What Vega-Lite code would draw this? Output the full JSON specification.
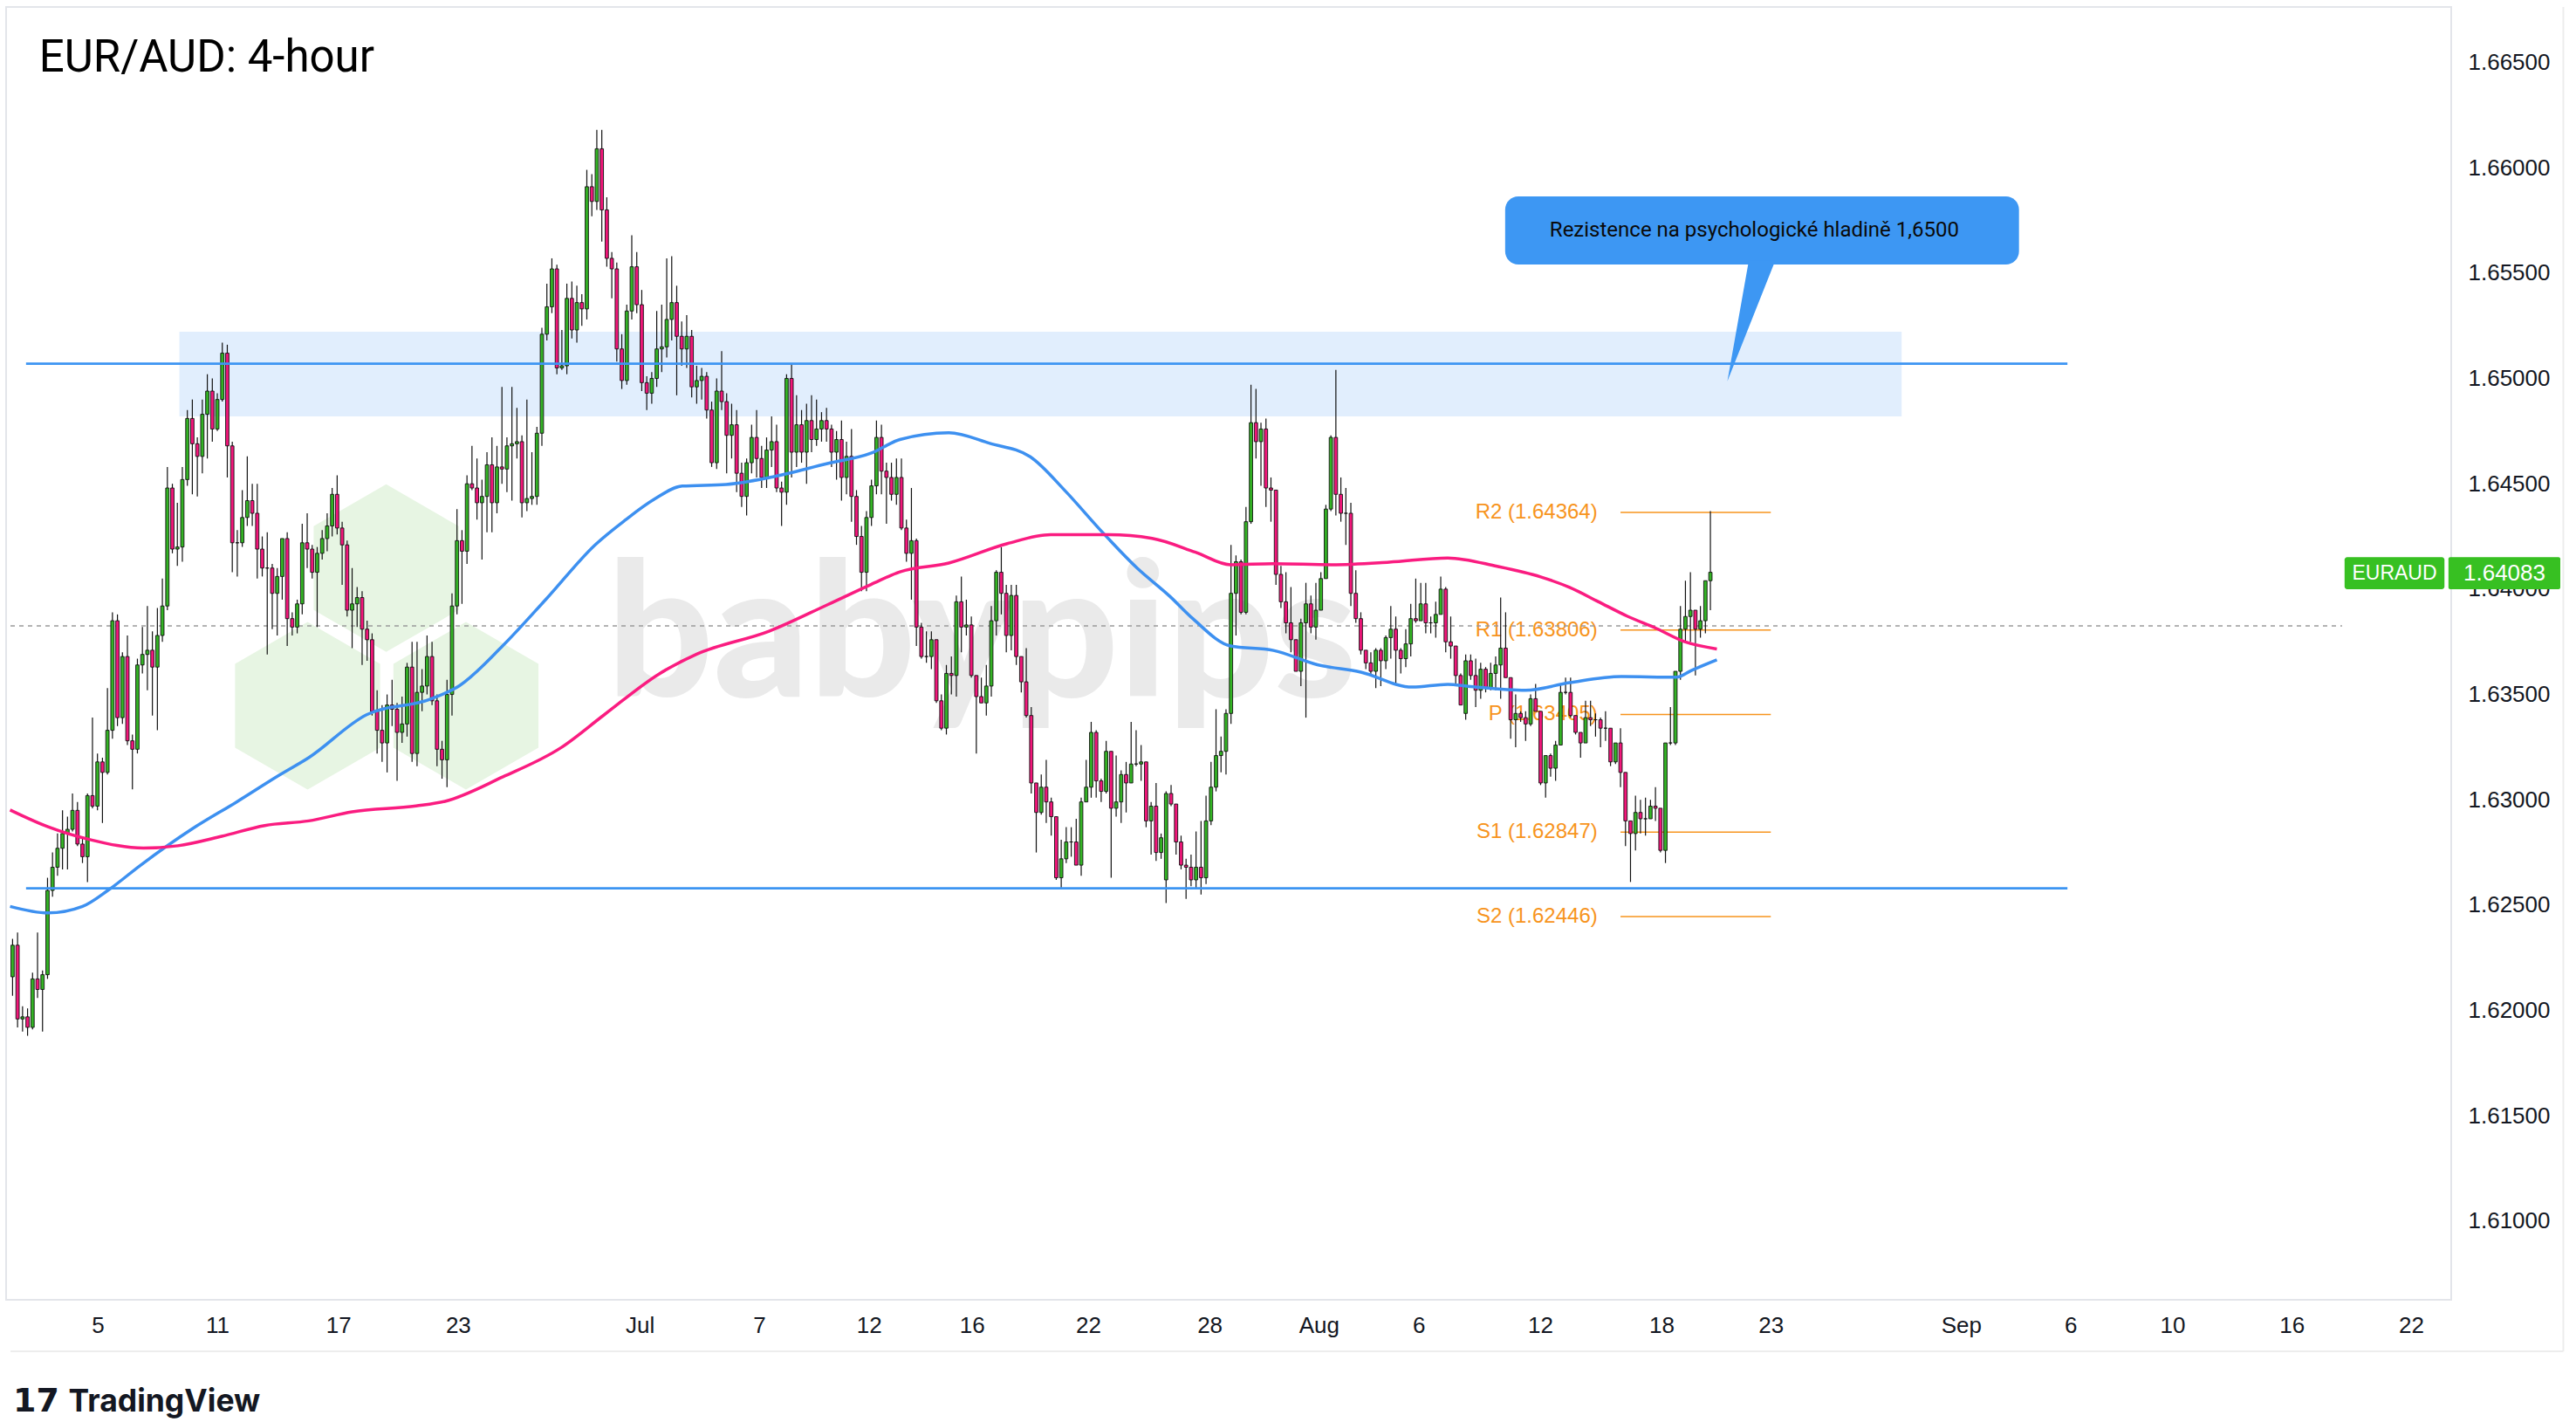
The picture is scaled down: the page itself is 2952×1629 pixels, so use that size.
{
  "$schema": "https://vega.github.io/schema/vega-lite/v6.json",
  "width": 2802,
  "height": 1481,
  "autosize": {"type": "none"},
  "padding": {"left": 7, "top": 8, "right": 143, "bottom": 140},
  "background": "#ffffff",
  "config": {"view": {"stroke": "#E3E5EA", "strokeWidth": 2}, "font": "Liberation Sans"},
  "resolve": {"axis": {"x": "independent", "y": "independent"}},
  "datasets": {
    "candles": [
      {"i":0,"o":1.6216,"h":1.6234,"l":1.6207,"c":1.6231},{"i":1,"o":1.6231,"h":1.6237,"l":1.6192,"c":1.6196},{"i":2,"o":1.6196,"h":1.6202,"l":1.6190,"c":1.6197},{"i":3,"o":1.6197,"h":1.6201,"l":1.6188,"c":1.6192},{"i":4,"o":1.6192,"h":1.6218,"l":1.6191,"c":1.6215},
      {"i":5,"o":1.6215,"h":1.6237,"l":1.6206,"c":1.6210},{"i":6,"o":1.6210,"h":1.6219,"l":1.6190,"c":1.6217},{"i":7,"o":1.6217,"h":1.6263,"l":1.6215,"c":1.6257},{"i":8,"o":1.6257,"h":1.6275,"l":1.6254,"c":1.6268},{"i":9,"o":1.6268,"h":1.6284,"l":1.6264,"c":1.6277},
      {"i":10,"o":1.6277,"h":1.6295,"l":1.6267,"c":1.6284},{"i":11,"o":1.6284,"h":1.6292,"l":1.6267,"c":1.6286},{"i":12,"o":1.6286,"h":1.6303,"l":1.6285,"c":1.6295},{"i":13,"o":1.6295,"h":1.6299,"l":1.6278,"c":1.6279},{"i":14,"o":1.6279,"h":1.6282,"l":1.6270,"c":1.6273},
      {"i":15,"o":1.6273,"h":1.6303,"l":1.6261,"c":1.6302},{"i":16,"o":1.6302,"h":1.6339,"l":1.6296,"c":1.6297},{"i":17,"o":1.6297,"h":1.6322,"l":1.6295,"c":1.6318},{"i":18,"o":1.6318,"h":1.6320,"l":1.6289,"c":1.6313},{"i":19,"o":1.6313,"h":1.6353,"l":1.6312,"c":1.6333},
      {"i":20,"o":1.6333,"h":1.6389,"l":1.6329,"c":1.6385},{"i":21,"o":1.6385,"h":1.6388,"l":1.6335,"c":1.6339},{"i":22,"o":1.6339,"h":1.6370,"l":1.6336,"c":1.6368},{"i":23,"o":1.6368,"h":1.6378,"l":1.6326,"c":1.6328},{"i":24,"o":1.6328,"h":1.6331,"l":1.6305,"c":1.6324},
      {"i":25,"o":1.6324,"h":1.6367,"l":1.6322,"c":1.6364},{"i":26,"o":1.6364,"h":1.6382,"l":1.6360,"c":1.6369},{"i":27,"o":1.6369,"h":1.6392,"l":1.6352,"c":1.6371},{"i":28,"o":1.6371,"h":1.6380,"l":1.6340,"c":1.6363},{"i":29,"o":1.6363,"h":1.6391,"l":1.6333,"c":1.6378},
      {"i":30,"o":1.6378,"h":1.6405,"l":1.6375,"c":1.6392},{"i":31,"o":1.6392,"h":1.6458,"l":1.6390,"c":1.6448},{"i":32,"o":1.6448,"h":1.6450,"l":1.6417,"c":1.6419},{"i":33,"o":1.6419,"h":1.6441,"l":1.6411,"c":1.6420},{"i":34,"o":1.6420,"h":1.6458,"l":1.6413,"c":1.6452},
      {"i":35,"o":1.6452,"h":1.6485,"l":1.6449,"c":1.6481},{"i":36,"o":1.6481,"h":1.6490,"l":1.6445,"c":1.6469},{"i":37,"o":1.6469,"h":1.6472,"l":1.6444,"c":1.6463},{"i":38,"o":1.6463,"h":1.6490,"l":1.6455,"c":1.6483},{"i":39,"o":1.6483,"h":1.6502,"l":1.6462,"c":1.6494},
      {"i":40,"o":1.6494,"h":1.6500,"l":1.6470,"c":1.6476},{"i":41,"o":1.6476,"h":1.6493,"l":1.6475,"c":1.6490},{"i":42,"o":1.6490,"h":1.6517,"l":1.6489,"c":1.6512},{"i":43,"o":1.6512,"h":1.6516,"l":1.6453,"c":1.6468},{"i":44,"o":1.6468,"h":1.6470,"l":1.6408,"c":1.6422},
      {"i":45,"o":1.6422,"h":1.6428,"l":1.6406,"c":1.6422},{"i":46,"o":1.6422,"h":1.6447,"l":1.6420,"c":1.6434},{"i":47,"o":1.6434,"h":1.6463,"l":1.6430,"c":1.6442},{"i":48,"o":1.6442,"h":1.6450,"l":1.6430,"c":1.6436},{"i":49,"o":1.6436,"h":1.6450,"l":1.6405,"c":1.6419},
      {"i":50,"o":1.6419,"h":1.6425,"l":1.6406,"c":1.6410},{"i":51,"o":1.6410,"h":1.6427,"l":1.6369,"c":1.6410},{"i":52,"o":1.6410,"h":1.6412,"l":1.6381,"c":1.6398},{"i":53,"o":1.6398,"h":1.6410,"l":1.6378,"c":1.6406},{"i":54,"o":1.6406,"h":1.6424,"l":1.6395,"c":1.6424},
      {"i":55,"o":1.6424,"h":1.6427,"l":1.6373,"c":1.6386},{"i":56,"o":1.6386,"h":1.6389,"l":1.6378,"c":1.6382},{"i":57,"o":1.6382,"h":1.6395,"l":1.6379,"c":1.6393},{"i":58,"o":1.6393,"h":1.6431,"l":1.6388,"c":1.6422},{"i":59,"o":1.6422,"h":1.6436,"l":1.6410,"c":1.6419},
      {"i":60,"o":1.6419,"h":1.6421,"l":1.6405,"c":1.6408},{"i":61,"o":1.6408,"h":1.6420,"l":1.6382,"c":1.6417},{"i":62,"o":1.6417,"h":1.6428,"l":1.6414,"c":1.6424},{"i":63,"o":1.6424,"h":1.6436,"l":1.6418,"c":1.6430},{"i":64,"o":1.6430,"h":1.6448,"l":1.6425,"c":1.6445},
      {"i":65,"o":1.6445,"h":1.6454,"l":1.6426,"c":1.6429},{"i":66,"o":1.6429,"h":1.6432,"l":1.6402,"c":1.6421},{"i":67,"o":1.6421,"h":1.6423,"l":1.6387,"c":1.6390},{"i":68,"o":1.6390,"h":1.6410,"l":1.6372,"c":1.6393},{"i":69,"o":1.6393,"h":1.6401,"l":1.6382,"c":1.6396},
      {"i":70,"o":1.6396,"h":1.6399,"l":1.6364,"c":1.6381},{"i":71,"o":1.6381,"h":1.6385,"l":1.6366,"c":1.6376},{"i":72,"o":1.6376,"h":1.6379,"l":1.6340,"c":1.6342},{"i":73,"o":1.6342,"h":1.6352,"l":1.6322,"c":1.6333},{"i":74,"o":1.6333,"h":1.6345,"l":1.6318,"c":1.6327},
      {"i":75,"o":1.6327,"h":1.6350,"l":1.6313,"c":1.6345},{"i":76,"o":1.6345,"h":1.6357,"l":1.6335,"c":1.6343},{"i":77,"o":1.6343,"h":1.6346,"l":1.6309,"c":1.6332},{"i":78,"o":1.6332,"h":1.6349,"l":1.6327,"c":1.6336},{"i":79,"o":1.6336,"h":1.6365,"l":1.6330,"c":1.6363},
      {"i":80,"o":1.6363,"h":1.6375,"l":1.6318,"c":1.6322},{"i":81,"o":1.6322,"h":1.6375,"l":1.6316,"c":1.6351},{"i":82,"o":1.6351,"h":1.6362,"l":1.6342,"c":1.6354},{"i":83,"o":1.6354,"h":1.6378,"l":1.6350,"c":1.6368},{"i":84,"o":1.6368,"h":1.6375,"l":1.6345,"c":1.6347},
      {"i":85,"o":1.6347,"h":1.6350,"l":1.6316,"c":1.6324},{"i":86,"o":1.6324,"h":1.6328,"l":1.6310,"c":1.6319},{"i":87,"o":1.6319,"h":1.6357,"l":1.6306,"c":1.6350},{"i":88,"o":1.6350,"h":1.6398,"l":1.6340,"c":1.6392},{"i":89,"o":1.6392,"h":1.6438,"l":1.6388,"c":1.6423},
      {"i":90,"o":1.6423,"h":1.6428,"l":1.6393,"c":1.6418},{"i":91,"o":1.6418,"h":1.6454,"l":1.6412,"c":1.6450},{"i":92,"o":1.6450,"h":1.6468,"l":1.6447,"c":1.6448},{"i":93,"o":1.6448,"h":1.6462,"l":1.6433,"c":1.6441},{"i":94,"o":1.6441,"h":1.6452,"l":1.6414,"c":1.6444},
      {"i":95,"o":1.6444,"h":1.6465,"l":1.6427,"c":1.6459},{"i":96,"o":1.6459,"h":1.6472,"l":1.6427,"c":1.6441},{"i":97,"o":1.6441,"h":1.6468,"l":1.6436,"c":1.6458},{"i":98,"o":1.6458,"h":1.6496,"l":1.6450,"c":1.6457},{"i":99,"o":1.6457,"h":1.6472,"l":1.6446,"c":1.6468},
      {"i":100,"o":1.6468,"h":1.6496,"l":1.6442,"c":1.6469},{"i":101,"o":1.6469,"h":1.6486,"l":1.6462,"c":1.6470},{"i":102,"o":1.6470,"h":1.6473,"l":1.6434,"c":1.6441},{"i":103,"o":1.6441,"h":1.6490,"l":1.6437,"c":1.6443},{"i":104,"o":1.6443,"h":1.6465,"l":1.6440,"c":1.6444},
      {"i":105,"o":1.6444,"h":1.6477,"l":1.6440,"c":1.6474},{"i":106,"o":1.6474,"h":1.6524,"l":1.6468,"c":1.6521},{"i":107,"o":1.6521,"h":1.6545,"l":1.6518,"c":1.6534},{"i":108,"o":1.6534,"h":1.6557,"l":1.6531,"c":1.6552},{"i":109,"o":1.6552,"h":1.6554,"l":1.6502,"c":1.6505},
      {"i":110,"o":1.6505,"h":1.6523,"l":1.6504,"c":1.6506},{"i":111,"o":1.6506,"h":1.6545,"l":1.6502,"c":1.6538},{"i":112,"o":1.6538,"h":1.6546,"l":1.6519,"c":1.6523},{"i":113,"o":1.6523,"h":1.6544,"l":1.6517,"c":1.6536},{"i":114,"o":1.6536,"h":1.6540,"l":1.6525,"c":1.6533},
      {"i":115,"o":1.6533,"h":1.6599,"l":1.6528,"c":1.6591},{"i":116,"o":1.6591,"h":1.6597,"l":1.6577,"c":1.6584},{"i":117,"o":1.6584,"h":1.6618,"l":1.6580,"c":1.6609},{"i":118,"o":1.6609,"h":1.6618,"l":1.6565,"c":1.6580},{"i":119,"o":1.6580,"h":1.6586,"l":1.6553,"c":1.6557},
      {"i":120,"o":1.6557,"h":1.6560,"l":1.6538,"c":1.6552},{"i":121,"o":1.6552,"h":1.6555,"l":1.6508,"c":1.6514},{"i":122,"o":1.6514,"h":1.6521,"l":1.6495,"c":1.6499},{"i":123,"o":1.6499,"h":1.6535,"l":1.6497,"c":1.6532},{"i":124,"o":1.6532,"h":1.6568,"l":1.6528,"c":1.6553},
      {"i":125,"o":1.6553,"h":1.6560,"l":1.6531,"c":1.6535},{"i":126,"o":1.6535,"h":1.6542,"l":1.6494,"c":1.6498},{"i":127,"o":1.6498,"h":1.6501,"l":1.6485,"c":1.6493},{"i":128,"o":1.6493,"h":1.6503,"l":1.6488,"c":1.6500},{"i":129,"o":1.6500,"h":1.6532,"l":1.6496,"c":1.6514},
      {"i":130,"o":1.6514,"h":1.6535,"l":1.6503,"c":1.6515},{"i":131,"o":1.6515,"h":1.6557,"l":1.6510,"c":1.6528},{"i":132,"o":1.6528,"h":1.6558,"l":1.6518,"c":1.6536},{"i":133,"o":1.6536,"h":1.6544,"l":1.6492,"c":1.6520},{"i":134,"o":1.6520,"h":1.6527,"l":1.6506,"c":1.6514},
      {"i":135,"o":1.6514,"h":1.6530,"l":1.6505,"c":1.6520},{"i":136,"o":1.6520,"h":1.6523,"l":1.6491,"c":1.6496},{"i":137,"o":1.6496,"h":1.6506,"l":1.6488,"c":1.6499},{"i":138,"o":1.6499,"h":1.6505,"l":1.6490,"c":1.6501},{"i":139,"o":1.6501,"h":1.6503,"l":1.6481,"c":1.6485},
      {"i":140,"o":1.6485,"h":1.6489,"l":1.6458,"c":1.6460},{"i":141,"o":1.6460,"h":1.6500,"l":1.6457,"c":1.6494},{"i":142,"o":1.6494,"h":1.6513,"l":1.6485,"c":1.6489},{"i":143,"o":1.6489,"h":1.6493,"l":1.6455,"c":1.6473},{"i":144,"o":1.6473,"h":1.6488,"l":1.6462,"c":1.6478},
      {"i":145,"o":1.6478,"h":1.6485,"l":1.6446,"c":1.6455},{"i":146,"o":1.6455,"h":1.6460,"l":1.6439,"c":1.6444},{"i":147,"o":1.6444,"h":1.6462,"l":1.6435,"c":1.6460},{"i":148,"o":1.6460,"h":1.6478,"l":1.6455,"c":1.6472},{"i":149,"o":1.6472,"h":1.6485,"l":1.6453,"c":1.6462},
      {"i":150,"o":1.6462,"h":1.6468,"l":1.6448,"c":1.6453},{"i":151,"o":1.6453,"h":1.6472,"l":1.6448,"c":1.6466},{"i":152,"o":1.6466,"h":1.6482,"l":1.6458,"c":1.6470},{"i":153,"o":1.6470,"h":1.6478,"l":1.6446,"c":1.6448},{"i":154,"o":1.6448,"h":1.6451,"l":1.6430,"c":1.6446},
      {"i":155,"o":1.6446,"h":1.6502,"l":1.6440,"c":1.6500},{"i":156,"o":1.6500,"h":1.6507,"l":1.6453,"c":1.6465},{"i":157,"o":1.6465,"h":1.6492,"l":1.6458,"c":1.6478},{"i":158,"o":1.6478,"h":1.6485,"l":1.6460,"c":1.6465},{"i":159,"o":1.6465,"h":1.6488,"l":1.6450,"c":1.6480},
      {"i":160,"o":1.6480,"h":1.6492,"l":1.6465,"c":1.6471},{"i":161,"o":1.6471,"h":1.6490,"l":1.6468,"c":1.6476},{"i":162,"o":1.6476,"h":1.6484,"l":1.6470,"c":1.6480},{"i":163,"o":1.6480,"h":1.6486,"l":1.6470,"c":1.6476},{"i":164,"o":1.6476,"h":1.6478,"l":1.6458,"c":1.6465},
      {"i":165,"o":1.6465,"h":1.6475,"l":1.6452,"c":1.6471},{"i":166,"o":1.6471,"h":1.6480,"l":1.6442,"c":1.6453},{"i":167,"o":1.6453,"h":1.6470,"l":1.6445,"c":1.6463},{"i":168,"o":1.6463,"h":1.6476,"l":1.6432,"c":1.6444},{"i":169,"o":1.6444,"h":1.6447,"l":1.6421,"c":1.6425},
      {"i":170,"o":1.6425,"h":1.6430,"l":1.6399,"c":1.6408},{"i":171,"o":1.6408,"h":1.6437,"l":1.6399,"c":1.6434},{"i":172,"o":1.6434,"h":1.6452,"l":1.6430,"c":1.6449},{"i":173,"o":1.6449,"h":1.6480,"l":1.6445,"c":1.6472},{"i":174,"o":1.6472,"h":1.6478,"l":1.6445,"c":1.6456},
      {"i":175,"o":1.6456,"h":1.6460,"l":1.6431,"c":1.6453},{"i":176,"o":1.6453,"h":1.6460,"l":1.6442,"c":1.6445},{"i":177,"o":1.6445,"h":1.6462,"l":1.6440,"c":1.6453},{"i":178,"o":1.6453,"h":1.6462,"l":1.6428,"c":1.6429},{"i":179,"o":1.6429,"h":1.6433,"l":1.6413,"c":1.6417},
      {"i":180,"o":1.6417,"h":1.6448,"l":1.6395,"c":1.6423},{"i":181,"o":1.6423,"h":1.6424,"l":1.6373,"c":1.6382},{"i":182,"o":1.6382,"h":1.6384,"l":1.6367,"c":1.6368},{"i":183,"o":1.6368,"h":1.6380,"l":1.6365,"c":1.6368},{"i":184,"o":1.6368,"h":1.6380,"l":1.6362,"c":1.6376},
      {"i":185,"o":1.6376,"h":1.6376,"l":1.6346,"c":1.6347},{"i":186,"o":1.6347,"h":1.6350,"l":1.6333,"c":1.6334},{"i":187,"o":1.6334,"h":1.6364,"l":1.6331,"c":1.6360},{"i":188,"o":1.6360,"h":1.6368,"l":1.6350,"c":1.6359},{"i":189,"o":1.6359,"h":1.6397,"l":1.6349,"c":1.6394},
      {"i":190,"o":1.6394,"h":1.6406,"l":1.6370,"c":1.6382},{"i":191,"o":1.6382,"h":1.6395,"l":1.6378,"c":1.6383},{"i":192,"o":1.6383,"h":1.6387,"l":1.6358,"c":1.6359},{"i":193,"o":1.6359,"h":1.6359,"l":1.6322,"c":1.6349},{"i":194,"o":1.6349,"h":1.6358,"l":1.6346,"c":1.6346},
      {"i":195,"o":1.6346,"h":1.6364,"l":1.6340,"c":1.6354},{"i":196,"o":1.6354,"h":1.6392,"l":1.6349,"c":1.6385},{"i":197,"o":1.6385,"h":1.6409,"l":1.6378,"c":1.6408},{"i":198,"o":1.6408,"h":1.6420,"l":1.6388,"c":1.6398},{"i":199,"o":1.6398,"h":1.6402,"l":1.6370,"c":1.6378},
      {"i":200,"o":1.6378,"h":1.6402,"l":1.6371,"c":1.6397},{"i":201,"o":1.6397,"h":1.6402,"l":1.6364,"c":1.6368},{"i":202,"o":1.6368,"h":1.6368,"l":1.6351,"c":1.6356},{"i":203,"o":1.6356,"h":1.6372,"l":1.6339,"c":1.6340},{"i":204,"o":1.6340,"h":1.6344,"l":1.6303,"c":1.6308},
      {"i":205,"o":1.6308,"h":1.6308,"l":1.6275,"c":1.6294},{"i":206,"o":1.6294,"h":1.6312,"l":1.6293,"c":1.6306},{"i":207,"o":1.6306,"h":1.6319,"l":1.6289,"c":1.6299},{"i":208,"o":1.6299,"h":1.6301,"l":1.6283,"c":1.6292},{"i":209,"o":1.6292,"h":1.6292,"l":1.6262,"c":1.6263},
      {"i":210,"o":1.6263,"h":1.6281,"l":1.6258,"c":1.6272},{"i":211,"o":1.6272,"h":1.6287,"l":1.6270,"c":1.6280},{"i":212,"o":1.6280,"h":1.6287,"l":1.6273,"c":1.6280},{"i":213,"o":1.6280,"h":1.6291,"l":1.6269,"c":1.6269},{"i":214,"o":1.6269,"h":1.6301,"l":1.6264,"c":1.6299},
      {"i":215,"o":1.6299,"h":1.6319,"l":1.6299,"c":1.6306},{"i":216,"o":1.6306,"h":1.6337,"l":1.6301,"c":1.6332},{"i":217,"o":1.6332,"h":1.6333,"l":1.6301,"c":1.6309},{"i":218,"o":1.6309,"h":1.6310,"l":1.6299,"c":1.6304},{"i":219,"o":1.6304,"h":1.6328,"l":1.6303,"c":1.6323},
      {"i":220,"o":1.6323,"h":1.6323,"l":1.6263,"c":1.6296},{"i":221,"o":1.6296,"h":1.6321,"l":1.6292,"c":1.6299},{"i":222,"o":1.6299,"h":1.6314,"l":1.6289,"c":1.6312},{"i":223,"o":1.6312,"h":1.6318,"l":1.6294,"c":1.6308},{"i":224,"o":1.6308,"h":1.6337,"l":1.6308,"c":1.6317},
      {"i":225,"o":1.6317,"h":1.6333,"l":1.6316,"c":1.6317},{"i":226,"o":1.6317,"h":1.6326,"l":1.6309,"c":1.6318},{"i":227,"o":1.6318,"h":1.6318,"l":1.6287,"c":1.6290},{"i":228,"o":1.6290,"h":1.6299,"l":1.6274,"c":1.6297},{"i":229,"o":1.6297,"h":1.6308,"l":1.6271,"c":1.6275},
      {"i":230,"o":1.6275,"h":1.6284,"l":1.6272,"c":1.6282},{"i":231,"o":1.6262,"h":1.6304,"l":1.6251,"c":1.6303},{"i":232,"o":1.6303,"h":1.6307,"l":1.6297,"c":1.6298},{"i":233,"o":1.6298,"h":1.6298,"l":1.6274,"c":1.6280},{"i":234,"o":1.6280,"h":1.6283,"l":1.6267,"c":1.6269},
      {"i":235,"o":1.6269,"h":1.6272,"l":1.6253,"c":1.6268},{"i":236,"o":1.6268,"h":1.6274,"l":1.6259,"c":1.6262},{"i":237,"o":1.6262,"h":1.6285,"l":1.6258,"c":1.6268},{"i":238,"o":1.6268,"h":1.6290,"l":1.6255,"c":1.6263},{"i":239,"o":1.6263,"h":1.6302,"l":1.6260,"c":1.6290},
      {"i":240,"o":1.6290,"h":1.6318,"l":1.6288,"c":1.6306},{"i":241,"o":1.6306,"h":1.6343,"l":1.6304,"c":1.6321},{"i":242,"o":1.6321,"h":1.6330,"l":1.6313,"c":1.6323},{"i":243,"o":1.6323,"h":1.6343,"l":1.6312,"c":1.6341},{"i":244,"o":1.6341,"h":1.6421,"l":1.6336,"c":1.6398},
      {"i":245,"o":1.6398,"h":1.6416,"l":1.6378,"c":1.6413},{"i":246,"o":1.6413,"h":1.6414,"l":1.6388,"c":1.6389},{"i":247,"o":1.6389,"h":1.6439,"l":1.6388,"c":1.6432},{"i":248,"o":1.6432,"h":1.6497,"l":1.6431,"c":1.6479},{"i":249,"o":1.6479,"h":1.6495,"l":1.6462,"c":1.6470},
      {"i":250,"o":1.6470,"h":1.6479,"l":1.6449,"c":1.6476},{"i":251,"o":1.6476,"h":1.6481,"l":1.6439,"c":1.6448},{"i":252,"o":1.6448,"h":1.6453,"l":1.6432,"c":1.6447},{"i":253,"o":1.6447,"h":1.6447,"l":1.6402,"c":1.6407},{"i":254,"o":1.6407,"h":1.6411,"l":1.6391,"c":1.6394},
      {"i":255,"o":1.6394,"h":1.6408,"l":1.6379,"c":1.6384},{"i":256,"o":1.6384,"h":1.6401,"l":1.6370,"c":1.6376},{"i":257,"o":1.6376,"h":1.6376,"l":1.6361,"c":1.6361},{"i":258,"o":1.6361,"h":1.6386,"l":1.6354,"c":1.6384},{"i":259,"o":1.6384,"h":1.6403,"l":1.6339,"c":1.6393},
      {"i":260,"o":1.6393,"h":1.6397,"l":1.6379,"c":1.6382},{"i":261,"o":1.6382,"h":1.6403,"l":1.6376,"c":1.6390},{"i":262,"o":1.6390,"h":1.6408,"l":1.6390,"c":1.6405},{"i":263,"o":1.6405,"h":1.6440,"l":1.6405,"c":1.6438},{"i":264,"o":1.6438,"h":1.6473,"l":1.6437,"c":1.6472},
      {"i":265,"o":1.6472,"h":1.6504,"l":1.6435,"c":1.6445},{"i":266,"o":1.6445,"h":1.6453,"l":1.6432,"c":1.6436},{"i":267,"o":1.6436,"h":1.6448,"l":1.6421,"c":1.6436},{"i":268,"o":1.6436,"h":1.6441,"l":1.6392,"c":1.6398},{"i":269,"o":1.6398,"h":1.6409,"l":1.6384,"c":1.6386},
      {"i":270,"o":1.6386,"h":1.6389,"l":1.6369,"c":1.6371},{"i":271,"o":1.6371,"h":1.6371,"l":1.6362,"c":1.6365},{"i":272,"o":1.6365,"h":1.6370,"l":1.6359,"c":1.6361},{"i":273,"o":1.6361,"h":1.6372,"l":1.6353,"c":1.6371},{"i":274,"o":1.6371,"h":1.6372,"l":1.6354,"c":1.6366},
      {"i":275,"o":1.6366,"h":1.6378,"l":1.6362,"c":1.6377},{"i":276,"o":1.6377,"h":1.6392,"l":1.6367,"c":1.6381},{"i":277,"o":1.6381,"h":1.6387,"l":1.6355,"c":1.6371},{"i":278,"o":1.6371,"h":1.6372,"l":1.6360,"c":1.6367},{"i":279,"o":1.6367,"h":1.6381,"l":1.6363,"c":1.6374},
      {"i":280,"o":1.6374,"h":1.6393,"l":1.6368,"c":1.6386},{"i":281,"o":1.6386,"h":1.6405,"l":1.6384,"c":1.6385},{"i":282,"o":1.6385,"h":1.6403,"l":1.6385,"c":1.6393},{"i":283,"o":1.6393,"h":1.6403,"l":1.6379,"c":1.6384},{"i":284,"o":1.6384,"h":1.6387,"l":1.6379,"c":1.6384},
      {"i":285,"o":1.6384,"h":1.6394,"l":1.6377,"c":1.6388},{"i":286,"o":1.6388,"h":1.6406,"l":1.6388,"c":1.6400},{"i":287,"o":1.6400,"h":1.6401,"l":1.6370,"c":1.6375},{"i":288,"o":1.6375,"h":1.6387,"l":1.6367,"c":1.6373},{"i":289,"o":1.6373,"h":1.6373,"l":1.6355,"c":1.6359},
      {"i":290,"o":1.6359,"h":1.6360,"l":1.6345,"c":1.6345},{"i":291,"o":1.6341,"h":1.6369,"l":1.6338,"c":1.6366},{"i":292,"o":1.6366,"h":1.6369,"l":1.6357,"c":1.6359},{"i":293,"o":1.6359,"h":1.6367,"l":1.6344,"c":1.6352},{"i":294,"o":1.6352,"h":1.6365,"l":1.6348,"c":1.6362},
      {"i":295,"o":1.6362,"h":1.6363,"l":1.6351,"c":1.6353},{"i":296,"o":1.6353,"h":1.6365,"l":1.6352,"c":1.6360},{"i":297,"o":1.6360,"h":1.6368,"l":1.6352,"c":1.6364},{"i":298,"o":1.6364,"h":1.6396,"l":1.6348,"c":1.6372},{"i":299,"o":1.6372,"h":1.6389,"l":1.6358,"c":1.6358},
      {"i":300,"o":1.6358,"h":1.6358,"l":1.6329,"c":1.6338},{"i":301,"o":1.6338,"h":1.6350,"l":1.6325,"c":1.6341},{"i":302,"o":1.6341,"h":1.6342,"l":1.6337,"c":1.6339},{"i":303,"o":1.6339,"h":1.6342,"l":1.6328,"c":1.6336},{"i":304,"o":1.6336,"h":1.6350,"l":1.6335,"c":1.6348},
      {"i":305,"o":1.6348,"h":1.6355,"l":1.6342,"c":1.6342},{"i":306,"o":1.6342,"h":1.6342,"l":1.6307,"c":1.6308},{"i":307,"o":1.6308,"h":1.6321,"l":1.6301,"c":1.6321},{"i":308,"o":1.6321,"h":1.6322,"l":1.6311,"c":1.6315},{"i":309,"o":1.6315,"h":1.6328,"l":1.6309,"c":1.6326},
      {"i":310,"o":1.6326,"h":1.6355,"l":1.6326,"c":1.6351},{"i":311,"o":1.6351,"h":1.6358,"l":1.6350,"c":1.6351},{"i":312,"o":1.6351,"h":1.6358,"l":1.6339,"c":1.6340},{"i":313,"o":1.6340,"h":1.6340,"l":1.6331,"c":1.6332},{"i":314,"o":1.6332,"h":1.6332,"l":1.6320,"c":1.6327},
      {"i":315,"o":1.6327,"h":1.6347,"l":1.6327,"c":1.6339},{"i":316,"o":1.6339,"h":1.6347,"l":1.6335,"c":1.6338},{"i":317,"o":1.6338,"h":1.6341,"l":1.6330,"c":1.6338},{"i":318,"o":1.6338,"h":1.6339,"l":1.6325,"c":1.6334},{"i":319,"o":1.6334,"h":1.6342,"l":1.6328,"c":1.6334},
      {"i":320,"o":1.6334,"h":1.6334,"l":1.6316,"c":1.6318},{"i":321,"o":1.6318,"h":1.6327,"l":1.6317,"c":1.6327},{"i":322,"o":1.6327,"h":1.6334,"l":1.6306,"c":1.6313},{"i":323,"o":1.6313,"h":1.6313,"l":1.6278,"c":1.6290},{"i":324,"o":1.6290,"h":1.6290,"l":1.6261,"c":1.6284},
      {"i":325,"o":1.6284,"h":1.6302,"l":1.6276,"c":1.6294},{"i":326,"o":1.6294,"h":1.6300,"l":1.6284,"c":1.6291},{"i":327,"o":1.6291,"h":1.6301,"l":1.6283,"c":1.6291},{"i":328,"o":1.6291,"h":1.6300,"l":1.6291,"c":1.6297},{"i":329,"o":1.6297,"h":1.6306,"l":1.6290,"c":1.6296},
      {"i":330,"o":1.6296,"h":1.6296,"l":1.6275,"c":1.6276},{"i":331,"o":1.6276,"h":1.6327,"l":1.6270,"c":1.6327},{"i":332,"o":1.6327,"h":1.6344,"l":1.6326,"c":1.6327},{"i":333,"o":1.6327,"h":1.6361,"l":1.6326,"c":1.6361},{"i":334,"o":1.6361,"h":1.6392,"l":1.6357,"c":1.6381},
      {"i":335,"o":1.6381,"h":1.6404,"l":1.6375,"c":1.6387},{"i":336,"o":1.6387,"h":1.6408,"l":1.6375,"c":1.6390},{"i":337,"o":1.6390,"h":1.6390,"l":1.6359,"c":1.6381},{"i":338,"o":1.6381,"h":1.6392,"l":1.6377,"c":1.6385},{"i":339,"o":1.6385,"h":1.6404,"l":1.6379,"c":1.6404},
      {"i":340,"o":1.6404,"h":1.6437,"l":1.6390,"c":1.6408}
    ],
    "ma": [
      {"s":"blue","i":-0.5,"p":1.62494},{"s":"blue","i":7.1,"p":1.62463},{"s":"blue","i":14.0,"p":1.62494},{"s":"blue","i":19.2,"p":1.62572},{"s":"blue","i":25.6,"p":1.62689},{"s":"blue","i":36.1,"p":1.62864},{"s":"blue","i":44.8,"p":1.62989},{"s":"blue","i":53.4,"p":1.63117},{"s":"blue","i":59.3,"p":1.63200},{"s":"blue","i":70.9,"p":1.63404},{"s":"blue","i":83.7,"p":1.63478},{"s":"blue","i":89.5,"p":1.63542},{"s":"blue","i":98.2,"p":1.63732},{"s":"blue","i":106.9,"p":1.63954},{"s":"blue","i":116.7,"p":1.64211},{"s":"blue","i":122.6,"p":1.64326},{"s":"blue","i":128.4,"p":1.64425},{"s":"blue","i":134.1,"p":1.64489},{"s":"blue","i":142.9,"p":1.64497},{"s":"blue","i":151.6,"p":1.64530},{"s":"blue","i":163.2,"p":1.64596},{"s":"blue","i":171.9,"p":1.64645},{"s":"blue","i":177.7,"p":1.64710},{"s":"blue","i":187.5,"p":1.64742},{"s":"blue","i":195.7,"p":1.64692},{"s":"blue","i":203.8,"p":1.64628},{"s":"blue","i":210.8,"p":1.64466},{"s":"blue","i":217.7,"p":1.64284},{"s":"blue","i":225.2,"p":1.64100},{"s":"blue","i":231.7,"p":1.63967},{"s":"blue","i":236.4,"p":1.63859},{"s":"blue","i":243.9,"p":1.63730},{"s":"blue","i":252.5,"p":1.63709},{"s":"blue","i":261.3,"p":1.63641},{"s":"blue","i":270.0,"p":1.63606},{"s":"blue","i":280.3,"p":1.63535},{"s":"blue","i":287.4,"p":1.63548},{"s":"blue","i":291.5,"p":1.63539},{"s":"blue","i":303.0,"p":1.63520},{"s":"blue","i":311.8,"p":1.63556},{"s":"blue","i":322.2,"p":1.63585},{"s":"blue","i":333.2,"p":1.63582},{"s":"blue","i":336.1,"p":1.63613},{"s":"blue","i":341.3,"p":1.63664},
      {"s":"pink","i":-0.5,"p":1.62952},{"s":"pink","i":7.1,"p":1.62872},{"s":"pink","i":15.7,"p":1.62810},{"s":"pink","i":26.2,"p":1.62771},{"s":"pink","i":33.1,"p":1.62782},{"s":"pink","i":41.9,"p":1.62827},{"s":"pink","i":50.5,"p":1.62878},{"s":"pink","i":59.3,"p":1.62900},{"s":"pink","i":68.0,"p":1.62943},{"s":"pink","i":80.8,"p":1.62971},{"s":"pink","i":86.6,"p":1.62993},{"s":"pink","i":98.2,"p":1.63109},{"s":"pink","i":109.8,"p":1.63247},{"s":"pink","i":118.5,"p":1.63404},{"s":"pink","i":129.5,"p":1.63598},{"s":"pink","i":137.0,"p":1.63691},{"s":"pink","i":151.6,"p":1.63801},{"s":"pink","i":163.2,"p":1.63926},{"s":"pink","i":171.9,"p":1.64022},{"s":"pink","i":177.7,"p":1.64082},{"s":"pink","i":187.5,"p":1.64124},{"s":"pink","i":199.2,"p":1.64216},{"s":"pink","i":207.9,"p":1.64258},{"s":"pink","i":219.5,"p":1.64258},{"s":"pink","i":228.2,"p":1.64241},{"s":"pink","i":236.9,"p":1.64175},{"s":"pink","i":243.9,"p":1.64116},{"s":"pink","i":252.5,"p":1.64121},{"s":"pink","i":264.2,"p":1.64116},{"s":"pink","i":275.7,"p":1.64128},{"s":"pink","i":287.4,"p":1.64148},{"s":"pink","i":297.3,"p":1.64108},{"s":"pink","i":306.0,"p":1.64058},{"s":"pink","i":311.8,"p":1.64008},{"s":"pink","i":317.5,"p":1.63941},{"s":"pink","i":323.4,"p":1.63871},{"s":"pink","i":329.2,"p":1.63813},{"s":"pink","i":335.0,"p":1.63749},{"s":"pink","i":341.3,"p":1.63716}
    ],
    "pivots": [
      {"t":"R2 (1.64364)","v":1.64364},{"t":"R1 (1.63806)","v":1.63806},{"t":"P (1.63405)","v":1.63405},{"t":"S1 (1.62847)","v":1.62847},{"t":"S2 (1.62446)","v":1.62446}
    ],
    "levels": [{"v":1.6507},{"v":1.6258}],
    "hex": [{"i":74.82,"p":1.640995},{"i":90.79,"p":1.634465},{"i":59.08,"p":1.634465}],
    "pointer": [{"i":343.4,"a":1.64987,"b":1.64987},{"i":347.7,"a":1.6556,"b":1.65244},{"i":353.0,"a":1.6556,"b":1.6556}]
  },
  "layer": [
    {
      "data": {"name": "candles"},
      "mark": {"type": "bar", "width": 3.6, "stroke": "#111111", "strokeWidth": 0.9, "opacity": 0},
      "encoding": {
        "x": {
          "field": "i", "type": "quantitative", "scale": {"domain": [-0.42, 487.48]},
          "axis": {
            "orient": "bottom", "title": null, "grid": false, "domain": false, "ticks": false, "tickSize": 0,
            "values": [17.05, 41, 65.25, 89.2, 125.6, 149.5, 171.5, 192.1, 215.4, 239.7, 261.6, 281.6, 305.9, 330.2, 352.1, 390.2, 412.1, 432.5, 456.4, 480.3],
            "labelExpr": "['5','11','17','23','Jul','7','12','16','22','28','Aug','6','12','18','23','Sep','6','10','16','22'][indexof([17.05, 41, 65.25, 89.2, 125.6, 149.5, 171.5, 192.1, 215.4, 239.7, 261.6, 281.6, 305.9, 330.2, 352.1, 390.2, 412.1, 432.5, 456.4, 480.3], datum.value)]",
            "labelFont": "Liberation Sans", "labelFontSize": 26, "labelColor": "#131722", "labelPadding": 16, "labelAngle": 0, "labelOverlap": false, "labelFlush": false
          }
        },
        "y": {
          "field": "o", "type": "quantitative", "scale": {"domain": [1.60627, 1.66763]},
          "axis": {
            "orient": "right", "title": null, "grid": false, "domain": false, "ticks": false, "tickSize": 0,
            "values": [1.61, 1.615, 1.62, 1.625, 1.63, 1.635, 1.64, 1.645, 1.65, 1.655, 1.66, 1.665],
            "format": ".5f", "labelFont": "Liberation Sans", "labelFontSize": 26, "labelColor": "#131722", "labelPadding": 19, "labelOverlap": false, "labelFlush": false
          }
        },
        "y2": {"field": "c"}
      }
    },
    {
      "data": {"values": [{}]},
      "mark": {"type": "rect", "color": "#E1EEFD"},
      "encoding": {
        "x": {"datum": 33.4, "type": "quantitative", "scale": {"domain": [-0.42, 487.48]}, "axis": null},
        "x2": {"datum": 378.3},
        "y": {"datum": 1.64820, "type": "quantitative", "scale": {"domain": [1.60627, 1.66763]}, "axis": null},
        "y2": {"datum": 1.65222}
      }
    },
    {
      "data": {"name": "hex"},
      "mark": {"type": "point", "shape": "M0,-1L0.866,-0.5L0.866,0.5L0,1L-0.866,0.5L-0.866,-0.5Z", "size": 36864, "filled": true, "fill": "#E7F5E3", "opacity": 1, "strokeWidth": 0},
      "encoding": {
        "x": {"field": "i", "type": "quantitative", "scale": {"domain": [-0.42, 487.48]}, "axis": null},
        "y": {"field": "p", "type": "quantitative", "scale": {"domain": [1.60627, 1.66763]}, "axis": null}
      }
    },
    {
      "data": {"values": [{}]},
      "mark": {"type": "text", "text": "babypips", "font": "Lato", "fontWeight": 900, "fontSize": 214, "color": "#EAEAEA", "align": "left", "baseline": "alphabetic"},
      "encoding": {
        "x": {"datum": 119.0, "type": "quantitative", "scale": {"domain": [-0.42, 487.48]}, "axis": null},
        "y": {"datum": 1.6349, "type": "quantitative", "scale": {"domain": [1.60627, 1.66763]}, "axis": null}
      }
    },
    {
      "data": {"name": "pivots"},
      "mark": {"type": "rule", "color": "#F7941D", "strokeWidth": 1.6},
      "encoding": {
        "x": {"datum": 322.0, "type": "quantitative", "scale": {"domain": [-0.42, 487.48]}, "axis": null},
        "x2": {"datum": 352.1},
        "y": {"field": "v", "type": "quantitative", "scale": {"domain": [1.60627, 1.66763]}, "axis": null}
      }
    },
    {
      "data": {"name": "pivots"},
      "mark": {"type": "text", "color": "#F7941D", "font": "Liberation Sans", "fontSize": 24, "align": "right", "baseline": "middle"},
      "encoding": {
        "x": {"datum": 317.4, "type": "quantitative", "scale": {"domain": [-0.42, 487.48]}, "axis": null},
        "y": {"field": "v", "type": "quantitative", "scale": {"domain": [1.60627, 1.66763]}, "axis": null},
        "text": {"field": "t"}
      }
    },
    {
      "data": {"values": [{}]},
      "mark": {"type": "rule", "color": "#9A9A9A", "strokeWidth": 1.5, "strokeDash": [5, 5]},
      "encoding": {
        "x": {"datum": -0.42, "type": "quantitative", "scale": {"domain": [-0.42, 487.48]}, "axis": null},
        "x2": {"datum": 466.5},
        "y": {"datum": 1.63826, "type": "quantitative", "scale": {"domain": [1.60627, 1.66763]}, "axis": null}
      }
    },
    {
      "data": {"name": "candles"},
      "mark": {"type": "rule", "color": "#111111", "strokeWidth": 1.2},
      "encoding": {
        "x": {"field": "i", "type": "quantitative", "scale": {"domain": [-0.42, 487.48]}, "axis": null},
        "y": {"field": "l", "type": "quantitative", "scale": {"domain": [1.60627, 1.66763]}, "axis": null},
        "y2": {"field": "h"}
      }
    },
    {
      "data": {"name": "candles"},
      "mark": {"type": "bar", "width": 3.8, "stroke": "#111111", "strokeWidth": 0.9},
      "encoding": {
        "x": {"field": "i", "type": "quantitative", "scale": {"domain": [-0.42, 487.48]}, "axis": null},
        "y": {"field": "o", "type": "quantitative", "scale": {"domain": [1.60627, 1.66763]}, "axis": null},
        "y2": {"field": "c"},
        "fill": {"condition": {"test": "datum.c >= datum.o", "value": "#33B324"}, "value": "#F2167A"}
      }
    },
    {
      "data": {"name": "ma"},
      "mark": {"type": "line", "strokeWidth": 3.5, "interpolate": "monotone", "clip": true},
      "encoding": {
        "x": {"field": "i", "type": "quantitative", "scale": {"domain": [-0.42, 487.48]}, "axis": null},
        "y": {"field": "p", "type": "quantitative", "scale": {"domain": [1.60627, 1.66763]}, "axis": null},
        "color": {"field": "s", "type": "nominal", "scale": {"domain": ["blue", "pink"], "range": ["#3D90F0", "#FA1C80"]}, "legend": null}
      }
    },
    {
      "data": {"name": "levels"},
      "mark": {"type": "rule", "color": "#3D95F2", "strokeWidth": 2.6},
      "encoding": {
        "x": {"datum": 2.7, "type": "quantitative", "scale": {"domain": [-0.42, 487.48]}, "axis": null},
        "x2": {"datum": 411.5},
        "y": {"field": "v", "type": "quantitative", "scale": {"domain": [1.60627, 1.66763]}, "axis": null}
      }
    },
    {
      "data": {"values": [{}]},
      "mark": {"type": "rect", "color": "#3D97F3", "cornerRadius": 15},
      "encoding": {
        "x": {"datum": 298.9, "type": "quantitative", "scale": {"domain": [-0.42, 487.48]}, "axis": null},
        "x2": {"datum": 401.8},
        "y": {"datum": 1.65864, "type": "quantitative", "scale": {"domain": [1.60627, 1.66763]}, "axis": null},
        "y2": {"datum": 1.65541}
      }
    },
    {
      "data": {"name": "pointer"},
      "mark": {"type": "area", "color": "#3D97F3", "interpolate": "linear"},
      "encoding": {
        "x": {"field": "i", "type": "quantitative", "scale": {"domain": [-0.42, 487.48]}, "axis": null},
        "y": {"field": "a", "type": "quantitative", "scale": {"domain": [1.60627, 1.66763]}, "axis": null},
        "y2": {"field": "b"}
      }
    },
    {
      "data": {"values": [{}]},
      "mark": {"type": "text", "text": "Rezistence na psychologické hladině 1,6500", "font": "Roboto", "fontSize": 24, "color": "#0A0A0A", "align": "center", "baseline": "middle"},
      "encoding": {
        "x": {"datum": 348.8, "type": "quantitative", "scale": {"domain": [-0.42, 487.48]}, "axis": null},
        "y": {"datum": 1.65703, "type": "quantitative", "scale": {"domain": [1.60627, 1.66763]}, "axis": null}
      }
    },
    {
      "data": {"values": [{}]},
      "mark": {"type": "text", "text": "EUR/AUD: 4-hour", "font": "Roboto", "fontSize": 51, "color": "#000000", "align": "left", "baseline": "alphabetic"},
      "encoding": {
        "x": {"datum": 5.3, "type": "quantitative", "scale": {"domain": [-0.42, 487.48]}, "axis": null},
        "y": {"datum": 1.66456, "type": "quantitative", "scale": {"domain": [1.60627, 1.66763]}, "axis": null}
      }
    },
    {
      "data": {"values": [{}]},
      "mark": {"type": "rect", "color": "#37C022", "cornerRadius": 3},
      "encoding": {
        "x": {"datum": 467.0, "type": "quantitative", "scale": {"domain": [-0.42, 487.48]}, "axis": null},
        "x2": {"datum": 487.0},
        "y": {"datum": 1.64000, "type": "quantitative", "scale": {"domain": [1.60627, 1.66763]}, "axis": null},
        "y2": {"datum": 1.64152}
      }
    },
    {
      "data": {"values": [{}]},
      "mark": {"type": "rect", "color": "#37C022", "cornerRadius": 2},
      "encoding": {
        "x": {"datum": 487.8, "type": "quantitative", "scale": {"domain": [-0.42, 487.48]}, "axis": null},
        "x2": {"datum": 510.2},
        "y": {"datum": 1.64000, "type": "quantitative", "scale": {"domain": [1.60627, 1.66763]}, "axis": null},
        "y2": {"datum": 1.64152}
      }
    },
    {
      "data": {"values": [{}]},
      "mark": {"type": "text", "text": "EURAUD", "font": "Liberation Sans", "fontSize": 23, "color": "#FFFFFF", "align": "center", "baseline": "middle"},
      "encoding": {
        "x": {"datum": 477.0, "type": "quantitative", "scale": {"domain": [-0.42, 487.48]}, "axis": null},
        "y": {"datum": 1.64076, "type": "quantitative", "scale": {"domain": [1.60627, 1.66763]}, "axis": null}
      }
    },
    {
      "data": {"values": [{}]},
      "mark": {"type": "text", "text": "1.64083", "font": "Liberation Sans", "fontSize": 26, "color": "#FFFFFF", "align": "left", "baseline": "middle"},
      "encoding": {
        "x": {"datum": 490.8, "type": "quantitative", "scale": {"domain": [-0.42, 487.48]}, "axis": null},
        "y": {"datum": 1.64076, "type": "quantitative", "scale": {"domain": [1.60627, 1.66763]}, "axis": null}
      }
    },
    {
      "data": {"values": [{}]},
      "mark": {"type": "rule", "color": "#EDEDED", "strokeWidth": 2},
      "encoding": {
        "x": {"datum": -0.42, "type": "quantitative", "scale": {"domain": [-0.42, 487.48]}, "axis": null},
        "x2": {"datum": 510.8},
        "y": {"datum": 1.603826, "type": "quantitative", "scale": {"domain": [1.60627, 1.66763]}, "axis": null}
      }
    },
    {
      "data": {"values": [{}]},
      "mark": {"type": "rule", "color": "#EDEDED", "strokeWidth": 2},
      "encoding": {
        "x": {"datum": 510.8, "type": "quantitative", "scale": {"domain": [-0.42, 487.48]}, "axis": null},
        "y": {"datum": 1.66763, "type": "quantitative", "scale": {"domain": [1.60627, 1.66763]}, "axis": null},
        "y2": {"datum": 1.603826}
      }
    },
    {
      "data": {"values": [{}]},
      "mark": {"type": "text", "text": "17", "font": "DejaVu Sans", "fontWeight": 900, "fontSize": 38, "color": "#131722", "align": "left", "baseline": "alphabetic"},
      "encoding": {
        "x": {"datum": 0.1, "type": "quantitative", "scale": {"domain": [-0.42, 487.48]}, "axis": null},
        "y": {"datum": 1.60097, "type": "quantitative", "scale": {"domain": [1.60627, 1.66763]}, "axis": null}
      }
    },
    {
      "data": {"values": [{}]},
      "mark": {"type": "text", "text": "TradingView", "font": "Inter", "fontWeight": 700, "fontSize": 35.5, "color": "#131722", "align": "left", "baseline": "alphabetic"},
      "encoding": {
        "x": {"datum": 11.2, "type": "quantitative", "scale": {"domain": [-0.42, 487.48]}, "axis": null},
        "y": {"datum": 1.60097, "type": "quantitative", "scale": {"domain": [1.60627, 1.66763]}, "axis": null}
      }
    }
  ]
}
